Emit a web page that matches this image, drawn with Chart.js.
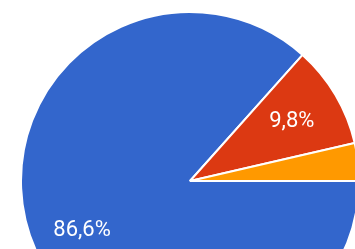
<!DOCTYPE html>
<html>
<head>
<meta charset="utf-8">
<script src="https://cdn.jsdelivr.net/npm/chart.js@4/dist/chart.umd.min.js"></script>
<style>
    html, body { margin: 0; padding: 0; background: #fff; overflow: hidden; width: 355px; height: 249px; }
    #caixa { position: absolute; left: 20px; top: 11px; width: 340px; height: 340px; }
</style>
</head>
<body>
<div id="caixa"><canvas id="graficoPizza"></canvas></div>
<script>
var categorias = ['Opção 1', 'Opção 2', 'Opção 3'];
var percentuais = [86.6, 9.8, 3.6];
var cores = ['#3366cc', '#dc3912', '#ff9900'];

function formatarPercentual(valor) {
    return valor.toFixed(1).replace('.', ',') + '%';
}

var rotulosFatias = {
    id: 'rotulosFatias',
    afterDatasetsDraw: function (chart) {
        var ctx = chart.ctx;
        var meta = chart.getDatasetMeta(0);
        var total = percentuais.reduce(function (a, b) { return a + b; }, 0);

        ctx.save();
        ctx.font = '22px Roboto, Arial, sans-serif';
        ctx.fillStyle = '#ffffff';
        ctx.textAlign = 'center';
        ctx.textBaseline = 'middle';

        meta.data.forEach(function (arco, i) {
            if (percentuais[i] / total < 0.05) {
                return;
            }
            var p = arco.getProps(['x', 'y', 'startAngle', 'endAngle', 'outerRadius'], true);
            var meio = (p.startAngle + p.endAngle) / 2;
            var r = p.outerRadius * 0.7;
            ctx.fillText(formatarPercentual(percentuais[i]), p.x + Math.cos(meio) * r, p.y + Math.sin(meio) * r + 1);
        });

        ctx.restore();
    }
};

new Chart(document.getElementById('graficoPizza').getContext('2d'), {
    type: 'pie',
    data: {
        labels: categorias,
        datasets: [{
            data: percentuais,
            backgroundColor: cores,
            borderColor: '#ffffff',
            borderWidth: 2
        }]
    },
    options: {
        responsive: true,
        maintainAspectRatio: false,
        animation: false,
        rotation: 90,
        layout: { padding: 0 },
        plugins: {
            legend: { display: false },
            tooltip: { enabled: false }
        }
    },
    plugins: [rotulosFatias]
});
</script>
</body>
</html>
